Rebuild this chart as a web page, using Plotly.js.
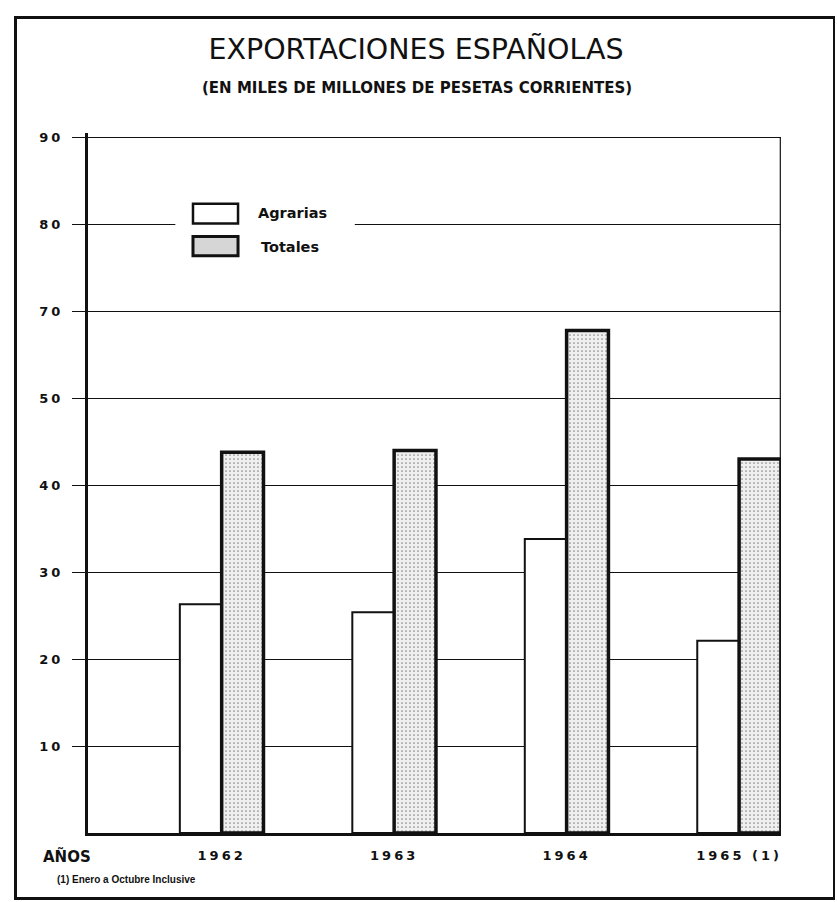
<!DOCTYPE html>
<html>
<head>
<meta charset="utf-8">
<script src="https://cdn.plot.ly/plotly-3.0.1.min.js"></script>
<style>
  html, body { margin: 0; padding: 0; background: #fff; }
  #wrap { position: relative; width: 837px; height: 902px; overflow: hidden; }
  #chart { position: absolute; left: 0; top: 0; width: 837px; height: 902px; }
  #frame { position: absolute; left: 14px; top: 16px; width: 816px; height: 878px;
           border-left: 3px solid #111; border-top: 3px solid #111; border-right: 2px solid #111;
           border-bottom: 3px solid #111; pointer-events: none; }
  .ytick text, .xtick text { letter-spacing: 3px; }
</style>
</head>
<body>
<div id="wrap">
  <div id="chart"></div>
  <div id="frame"></div>
</div>
<script>
// ---- data ----
const years = ['1962', '1963', '1964', '1965 (1)'];
const agrarias = [26.3, 25.4, 33.8, 22.1];
const totales = [43.8, 44.0, 57.8, 43.0];
const seriesNames = ['Agrarias', 'Totales'];
const yTickVals = [10, 20, 30, 40, 50, 60, 70, 80];
const yTickText = ['10', '20', '30', '40', '50', '70', '80', '90'];
const titleText = 'EXPORTACIONES ESPAÑOLAS';
const subtitleText = '(EN MILES DE MILLONES DE PESETAS CORRIENTES)';
const xAxisLabel = 'AÑOS';
const footnoteText = '(1) Enero a Octubre Inclusive';

const ink = '#111111';
const boldFont = 'DejaVu Sans';

const traces = [
  {
    type: 'bar', name: seriesNames[0], x: years, y: agrarias,
    marker: { color: '#ffffff', line: { color: ink, width: 2 } },
    hoverinfo: 'x+y+name'
  },
  {
    type: 'bar', name: seriesNames[1], x: years, y: totales,
    marker: {
      color: '#ececec', line: { color: ink, width: 3.5 },
      pattern: { shape: '.', fgcolor: '#8a8a8a', bgcolor: '#efefef', size: 4, solidity: 0.15 }
    },
    hoverinfo: 'x+y+name'
  }
];

const layout = {
  width: 837, height: 902,
  paper_bgcolor: '#ffffff', plot_bgcolor: '#ffffff',
  margin: { l: 88, r: 56, t: 133, b: 69 },
  showlegend: false,
  barmode: 'group', bargap: 0.515, bargroupgap: 0,
  title: {
    text: titleText,
    font: { family: 'DejaVu Sans', size: 28.5, color: ink, weight: 'normal' },
    x: 0.497, xanchor: 'center', y: 0.946, yanchor: 'middle', yref: 'container'
  },
  xaxis: {
    type: 'category', range: [-0.775, 3.243],
    showgrid: false, zeroline: false,
    showline: true, linecolor: ink, linewidth: 3,
    ticks: '', ticklabelstandoff: 8,
    tickfont: { family: boldFont, size: 13, color: ink, weight: 'bold' },
    fixedrange: true
  },
  yaxis: {
    range: [0, 80.5],
    tickvals: yTickVals, ticktext: yTickText,
    showgrid: true, gridcolor: ink, gridwidth: 1,
    zeroline: false,
    showline: true, linecolor: ink, linewidth: 3,
    ticks: 'outside', ticklen: 13, tickcolor: ink, tickwidth: 1,
    ticklabelstandoff: 6,
    tickfont: { family: boldFont, size: 13, color: ink, weight: 'bold' },
    fixedrange: true
  },
  shapes: [
    // thin right edge of the drawing
    { type: 'line', xref: 'paper', yref: 'paper', x0: 0.999, x1: 0.999, y0: 0.45, y1: 0.994,
      line: { color: ink, width: 1.2 }, layer: 'below' },
    // white area behind legend (interrupts grid line)
    { type: 'rect', xref: 'paper', yref: 'paper', x0: 0.126, x1: 0.385, y0: 0.82, y1: 0.905,
      fillcolor: '#ffffff', line: { width: 0 }, layer: 'above' },
    // legend boxes
    { type: 'rect', xref: 'paper', yref: 'paper', x0: 0.1515, x1: 0.2165, y0: 0.8707, y1: 0.8990,
      fillcolor: '#ffffff', line: { color: ink, width: 2.5 }, layer: 'above' },
    { type: 'rect', xref: 'paper', yref: 'paper', x0: 0.1515, x1: 0.2165, y0: 0.8247, y1: 0.8520,
      fillcolor: '#d6d6d6', line: { color: ink, width: 3 }, layer: 'above' }
  ],
  annotations: [
    { text: subtitleText, xref: 'paper', yref: 'paper', x: 0.475, y: 1.065,
      xanchor: 'center', yanchor: 'middle', showarrow: false,
      font: { family: 'DejaVu Sans', size: 15, color: ink, weight: 'bold' } },
    { text: seriesNames[0], xref: 'paper', yref: 'paper', x: 0.2424, y: 0.886,
      xanchor: 'left', yanchor: 'middle', showarrow: false,
      font: { family: boldFont, size: 14.5, color: ink, weight: 'bold' } },
    { text: seriesNames[1], xref: 'paper', yref: 'paper', x: 0.2468, y: 0.837,
      xanchor: 'left', yanchor: 'middle', showarrow: false,
      font: { family: boldFont, size: 14.5, color: ink, weight: 'bold' } },
    { text: xAxisLabel, xref: 'paper', yref: 'paper', x: -0.03, y: -0.034,
      xanchor: 'center', yanchor: 'middle', showarrow: false,
      font: { family: boldFont, size: 15, color: ink, weight: 'bold' } },
    { text: footnoteText, xref: 'paper', yref: 'paper', x: -0.048, y: -0.067,
      xanchor: 'left', yanchor: 'middle', showarrow: false,
      font: { family: 'Liberation Sans Narrow, Liberation Sans', size: 10, color: ink, weight: 'bold' } }
  ]
};

Plotly.newPlot('chart', traces, layout, { displayModeBar: false, staticPlot: true });
</script>
</body>
</html>
